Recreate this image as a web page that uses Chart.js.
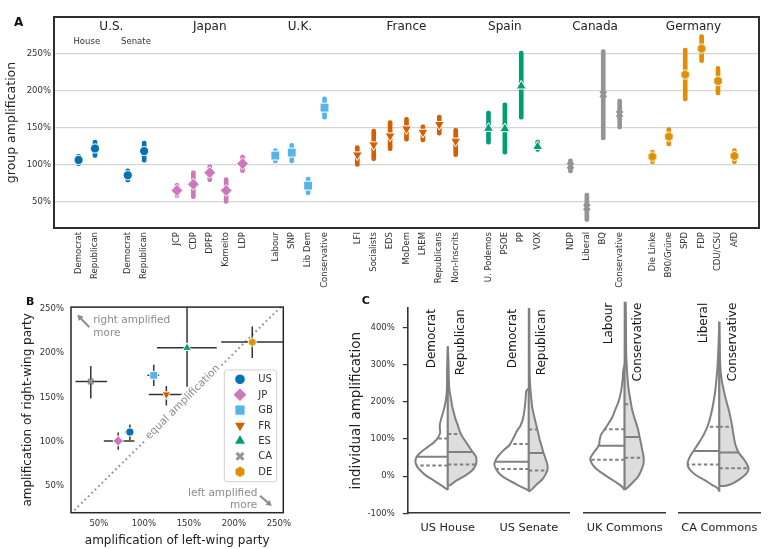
<!DOCTYPE html>
<html>
<head>
<meta charset="utf-8">
<script src="https://cdn.jsdelivr.net/npm/chart.js@4.4.1/dist/chart.umd.min.js"></script>
<style>
html,body{margin:0;padding:0;background:#fff;}
#wrap{position:relative;width:771px;height:549px;overflow:hidden;background:#fff;}
#wrap canvas{position:absolute;}
</style>
</head>
<body>
<div id="wrap">
<canvas id="chartA" width="771" height="295" style="left:0px;top:0px;width:771px;height:295px"></canvas>
<canvas id="chartB" width="300" height="254" style="left:0px;top:295px;width:300px;height:254px"></canvas>
<canvas id="chartC1" width="240" height="254" style="left:330px;top:295px;width:240px;height:254px"></canvas>
<canvas id="chartC2" width="100" height="254" style="left:575px;top:295px;width:100px;height:254px"></canvas>
<canvas id="chartC3" width="101" height="254" style="left:670px;top:295px;width:101px;height:254px"></canvas>
</div>
<script>
// ================= DATA: panel A (group amplification per party) =================
const partyNames = ['Democrat','Republican','Democrat','Republican',
  'JCP','CDP','DPFP','Komeito','LDP',
  'Labour','SNP','Lib Dem','Conservative',
  'LFI','Socialists','EDS','MoDem','LREM','Republicans','Non-Inscrits',
  'U. Podemos','PSOE','PP','VOX',
  'NDP','Liberal','BQ','Conservative',
  'Die Linke','B90/Grüne','SPD','FDP','CDU/CSU','AfD'];
const partyCountries = ['US','US','US','US',
  'JP','JP','JP','JP','JP',
  'GB','GB','GB','GB',
  'FR','FR','FR','FR','FR','FR','FR',
  'ES','ES','ES','ES',
  'CA','CA','CA','CA',
  'DE','DE','DE','DE','DE','DE'];
const partySlots = [0,1,3,4, 6,7,8,9,10, 12,13,14,15, 17,18,19,20,21,22,23, 25,26,27,28, 30,31,32,33, 35,36,37,38,39,40];
const partyAmplification = [106.5,122,86,118.5, 65.5,74,89.5,65.5,101.5, 112.5,116.5,72,177, 113.5,127,139,148.5,144,154.5,132, 149,148.5,206,124.5, 99,43,195,168.5, 111,138,221.5,256.5,213,112];
const partyLow  = [99,110,77,103.5, 56,54.5,77.5,48,89.5, 102.5,102.5,60,161.5, 98,105.5,119,132,131,140,111, 128,114.5,161.5,118, 89,24,133.5,148.5, 101.5,125.5,186,237.5,194,101.5];
const partyHigh = [114,133.5,94.5,132, 75,92,100,83,113, 122,129,83.5,191.5, 126,148,159.5,164,154,167,149, 172.5,183.5,253,133.5, 108,62,255,188.5, 120,150,257,275.5,232.5,122];
const countryTitles = ['U.S.','Japan','U.K.','France','Spain','Canada','Germany'];
const countryTitleSlots = [2,8,13.5,20,26,31.5,37.5];
const chamberTitles = ['House','Senate'];
const chamberTitleSlots = [0.5,3.5];
const groupAmpTicks = [50,100,150,200,250];

// ================= DATA: panel B (left vs right wing) =================
const countryCodes = ['US','JP','GB','FR','ES','CA','DE'];
const leftAmp   = [84.5, 71.5, 111, 125, 148, 41, 220.5];
const leftLow   = [79, 55.5, 104, 105.5, 114.5, 24, 186];
const leftHigh  = [89, 89.5, 117, 145.5, 181, 59, 257];
const rightAmp  = [111, 101, 175, 153.5, 206, 168, 212.5];
const rightLow  = [102, 91, 163, 141, 162, 149, 194.5];
const rightHigh = [119.5, 110.5, 187, 163, 253, 185.5, 230];
const equalLine = [19, 255];
const lrTicks = [50,100,150,200,250];

// ================= DATA: panel C (individual amplification violins) =================
const violinGroups = ['US House','US Senate','UK Commons','CA Commons'];
const leftParties  = ['Democrat','Democrat','Labour','Liberal'];
const rightParties = ['Republican','Republican','Conservative','Conservative'];
const houseDemAmp   = [-37,-25,-12,0,13,26,39,52,65,78,91,104,117,135,152,170,187,204,222,240,290,348];
const houseDemWidth = [0,0.08,0.17,0.26,0.33,0.38,0.40,0.385,0.33,0.25,0.17,0.12,0.095,0.10,0.085,0.06,0.04,0.025,0.014,0.01,0.008,0];
const houseRepAmp   = [-26,-24,-11,2,15,28,41,54,67,80,93,106,119,137,154,171,189,206,224,241,267,310,350];
const houseRepWidth = [0,0.03,0.115,0.22,0.30,0.34,0.355,0.345,0.30,0.26,0.22,0.18,0.15,0.123,0.095,0.074,0.053,0.041,0.025,0.016,0.012,0.008,0];
const senateDemAmp   = [-39,-30,-22,-9,4,17,30,43,56,70,83,96,109,122,135,152,178,204,230,236];
const senateDemWidth = [0,0.08,0.155,0.265,0.35,0.40,0.425,0.41,0.37,0.31,0.24,0.205,0.175,0.145,0.105,0.075,0.053,0.041,0.03,0];
const senateRepAmp   = [-42,-35,-22,-9,4,17,30,48,65,83,100,117,135,161,187,222,265,352,452];
const senateRepWidth = [0,0.04,0.10,0.165,0.205,0.23,0.23,0.205,0.178,0.156,0.132,0.115,0.095,0.066,0.041,0.025,0.012,0.008,0.006];
const ukLabAmp   = [-39,-30,-22,-9,4,17,30,43,56,70,81,91,104,117,135,152,170,187,204,222,248,274,288];
const ukLabWidth = [0,0.035,0.085,0.18,0.27,0.35,0.40,0.42,0.385,0.335,0.31,0.305,0.29,0.25,0.195,0.148,0.115,0.082,0.058,0.041,0.025,0.016,0];
const ukConAmp   = [-39,-30,-17,-4,13,30,48,65,83,100,117,135,152,170,196,222,257,309,378,452];
const ukConWidth = [0,0.05,0.11,0.165,0.205,0.23,0.23,0.214,0.198,0.181,0.165,0.14,0.115,0.091,0.07,0.049,0.033,0.02,0.016,0.012];
const caLibAmp   = [-43.5,-35,-26,-13,0,13,26,39,52,65,83,100,117,135,161,187,222,265,309,352,400];
const caLibWidth = [0,0.02,0.09,0.185,0.29,0.36,0.39,0.38,0.35,0.31,0.255,0.205,0.165,0.132,0.099,0.074,0.049,0.029,0.016,0.008,0];
const caConAmp   = [-29,-28,-22,-9,4,17,30,43,56,74,91,117,143,170,196,222,248,283,352,400];
const caConWidth = [0,0.08,0.165,0.265,0.335,0.36,0.335,0.295,0.245,0.205,0.185,0.165,0.144,0.115,0.082,0.053,0.029,0.012,0.004,0];
const leftQ1  = [28.5, 19, 40, 27.5];
const leftMed = [52, 39, 76.5, 62.5];
const leftQ3  = [101.5, 86.5, 119, 126];
const rightQ1  = [31.5, 15, 45, 17.5];
const rightMed = [65, 62.5, 99, 58.5];
const rightQ3  = [113, 125.5, 184.5, 126];
const individualTicks = [-100,0,100,200,300,400];

// ================= STYLE =================
const FONT = '"DejaVu Sans", sans-serif';
Chart.defaults.font.family = FONT;
Chart.defaults.color = '#333';
Chart.defaults.animation = false;
Chart.defaults.events = [];
Chart.defaults.plugins.legend.display = false;
Chart.defaults.plugins.tooltip.enabled = false;

const countryColors = {US:'#0173B2', JP:'#CC78BC', GB:'#56B4E9', FR:'#D55E00', ES:'#029E73', CA:'#949494', DE:'#DE8F05'};

function hexImage(color, r) {
  const s = Math.ceil(2 * r + 4);
  const c = document.createElement('canvas');
  c.width = s; c.height = s;
  const g = c.getContext('2d');
  g.beginPath();
  for (let k = 0; k < 6; k++) {
    const ang = -Math.PI / 2 + k * Math.PI / 3;
    const px = s / 2 + r * Math.cos(ang), py = s / 2 + r * Math.sin(ang);
    if (k) g.lineTo(px, py); else g.moveTo(px, py);
  }
  g.closePath();
  g.fillStyle = color; g.fill();
  g.strokeStyle = '#fff'; g.lineWidth = 1; g.stroke();
  return c;
}
const sizeScale = {A: 1, B: 0.88, L: 1.15};
function marker(code, which) {
  const k = sizeScale[which];
  const base = {
    US: {style: 'circle', r: 4.6, rot: 0},
    JP: {style: 'rectRot', r: 6, rot: 0},
    GB: {style: 'rect', r: 6.3, rot: 0},
    FR: {style: 'triangle', r: 5.8, rot: 180},
    ES: {style: 'triangle', r: 5.8, rot: 0},
    CA: {style: 'crossRot', r: 4.2, rot: 0},
    DE: {style: 'hex', r: 5, rot: 0}
  }[code];
  const r = base.r * k;
  const isX = code === 'CA';
  return {
    pointStyle: base.style === 'hex' ? hexImage(countryColors[code], r) : base.style,
    radius: r,
    rotation: base.rot,
    bg: countryColors[code],
    border: isX ? countryColors[code] : '#ffffff',
    borderWidth: isX ? 2.6 * k : 1
  };
}

// ================= PANEL A =================
const panelAPlugin = {
  id: 'panelA',
  afterDraw(chart) {
    const {ctx, chartArea: a, scales: {x}} = chart;
    ctx.save();
    ctx.strokeStyle = '#2e2e2e'; ctx.lineWidth = 2;
    ctx.strokeRect(a.left, a.top, a.right - a.left, a.bottom - a.top);
    ctx.fillStyle = '#222'; ctx.textAlign = 'center'; ctx.textBaseline = 'middle';
    ctx.font = '12px ' + FONT;
    countryTitles.forEach((t, i) => ctx.fillText(t, x.getPixelForValue(countryTitleSlots[i]), 26.5));
    ctx.font = '8.5px ' + FONT; ctx.fillStyle = '#333';
    chamberTitles.forEach((t, i) => ctx.fillText(t, x.getPixelForValue(chamberTitleSlots[i]), 41.7));
    ctx.font = 'bold 12px ' + FONT; ctx.fillStyle = '#111';
    ctx.fillText('A', 18.7, 23.3);
    ctx.restore();
  }
};

const aMarkers = partyCountries.map(c => marker(c, 'A'));
new Chart(document.getElementById('chartA'), {
  type: 'scatter',
  data: {
    datasets: [
      {
        type: 'scatter', order: 0,
        data: partySlots.map((s, i) => ({x: s, y: partyAmplification[i]})),
        pointStyle: aMarkers.map(m => m.pointStyle),
        pointRadius: aMarkers.map(m => m.radius),
        pointRotation: aMarkers.map(m => m.rotation),
        pointBackgroundColor: aMarkers.map(m => m.bg),
        pointBorderColor: aMarkers.map(m => m.border),
        pointBorderWidth: aMarkers.map(m => m.borderWidth)
      },
      {
        type: 'bar', order: 1,
        data: partySlots.map((s, i) => ({x: s, y: [partyLow[i], partyHigh[i]]})),
        backgroundColor: partyCountries.map(c => countryColors[c]),
        barThickness: 4, borderRadius: 2, borderSkipped: false
      }
    ]
  },
  options: {
    responsive: false, maintainAspectRatio: false,
    layout: {padding: {left: 0, top: 17, right: 12, bottom: 0}},
    scales: {
      x: {
        type: 'linear', offset: false, min: -1.5, max: 41.5,
        afterBuildTicks: s => { s.ticks = partySlots.map(v => ({value: v})); },
        afterFit: s => { s.height = 67; },
        ticks: {
          autoSkip: false, minRotation: 90, maxRotation: 90, padding: 4,
          font: {size: 8.5}, color: '#333',
          callback: v => { const i = partySlots.indexOf(v); return i < 0 ? '' : partyNames[i]; }
        },
        grid: {display: false, drawTicks: false, offset: false},
        border: {display: false}
      },
      y: {
        type: 'linear', min: 15, max: 299, beginAtZero: false,
        afterBuildTicks: s => { s.ticks = groupAmpTicks.map(v => ({value: v})); },
        afterFit: s => { s.width = 54; },
        ticks: {padding: 3, font: {size: 8.5}, color: '#333', callback: v => v + '%'},
        grid: {color: '#d5d5d5', lineWidth: 1.2, drawTicks: false},
        border: {display: false},
        title: {display: true, text: 'group amplification', font: {size: 12.5}, color: '#222', padding: {top: 4, bottom: 4}}
      }
    }
  },
  plugins: [panelAPlugin]
});

// ================= PANEL B =================
function drawArrow(ctx, x1, y1, x2, y2) {
  const ang = Math.atan2(y2 - y1, x2 - x1);
  const head = 5.5;
  ctx.beginPath();
  ctx.moveTo(x1, y1);
  ctx.lineTo(x2 - Math.cos(ang) * head * 0.8, y2 - Math.sin(ang) * head * 0.8);
  ctx.stroke();
  ctx.beginPath();
  ctx.moveTo(x2, y2);
  ctx.lineTo(x2 - head * Math.cos(ang) + head * 0.6 * Math.sin(ang), y2 - head * Math.sin(ang) - head * 0.6 * Math.cos(ang));
  ctx.lineTo(x2 - head * Math.cos(ang) - head * 0.6 * Math.sin(ang), y2 - head * Math.sin(ang) + head * 0.6 * Math.cos(ang));
  ctx.closePath();
  ctx.fill();
}
const panelBPlugin = {
  id: 'panelB',
  afterDraw(chart) {
    const {ctx, chartArea: a, scales: {x, y}} = chart;
    ctx.save();
    ctx.strokeStyle = '#262626'; ctx.lineWidth = 1.5;
    ctx.strokeRect(a.left, a.top, a.right - a.left, a.bottom - a.top);

    // annotations
    ctx.fillStyle = '#8c8c8c'; ctx.strokeStyle = '#8c8c8c'; ctx.lineWidth = 2;
    ctx.font = '10.5px ' + FONT; ctx.textBaseline = 'middle';
    ctx.textAlign = 'left';
    ctx.fillText('right amplified', a.left + 22.3, a.top + 13.3);
    ctx.fillText('more', a.left + 22.3, a.top + 25.7);
    ctx.textAlign = 'right';
    ctx.fillText('left amplified', a.right - 26, a.bottom - 19.4);
    ctx.fillText('more', a.right - 26, a.bottom - 7.7);
    drawArrow(ctx, a.left + 18.3, a.top + 20, a.left + 6.3, a.top + 7.7);
    drawArrow(ctx, a.right - 23.3, a.bottom - 17, a.right - 11.6, a.bottom - 6.7);

    // equal amplification label
    const ex = x.getPixelForValue(142.9), ey = y.getPixelForValue(145);
    ctx.save();
    ctx.translate(ex, ey); ctx.rotate(-Math.PI / 4);
    const tw = ctx.measureText('equal amplification').width;
    ctx.fillStyle = '#ffffff';
    ctx.fillRect(-tw / 2 - 2, -6, tw + 4, 12);
    ctx.fillStyle = '#8c8c8c'; ctx.textAlign = 'center';
    ctx.fillText('equal amplification', 0, 0.5);
    ctx.restore();

    // legend
    const bx = 224.3, by = 75, bw = 52.4, bh = 111.7, rr = 3;
    ctx.beginPath();
    ctx.moveTo(bx + rr, by); ctx.lineTo(bx + bw - rr, by); ctx.quadraticCurveTo(bx + bw, by, bx + bw, by + rr);
    ctx.lineTo(bx + bw, by + bh - rr); ctx.quadraticCurveTo(bx + bw, by + bh, bx + bw - rr, by + bh);
    ctx.lineTo(bx + rr, by + bh); ctx.quadraticCurveTo(bx, by + bh, bx, by + bh - rr);
    ctx.lineTo(bx, by + rr); ctx.quadraticCurveTo(bx, by, bx + rr, by);
    ctx.closePath();
    ctx.fillStyle = 'rgba(255,255,255,0.9)'; ctx.fill();
    ctx.strokeStyle = '#d0d0d0'; ctx.lineWidth = 1; ctx.stroke();
    countryCodes.forEach((c, i) => {
      const ly = by + 9.3 + i * 15.4;
      const m = marker(c, 'L');
      ctx.fillStyle = m.bg; ctx.strokeStyle = m.border; ctx.lineWidth = m.borderWidth;
      if (Chart.helpers && Chart.helpers.drawPoint) {
        Chart.helpers.drawPoint(ctx, {pointStyle: m.pointStyle, radius: m.radius, rotation: m.rotation, borderWidth: m.borderWidth}, bx + 15.7, ly);
      } else {
        ctx.beginPath(); ctx.arc(bx + 15.7, ly, m.radius, 0, Math.PI * 2); ctx.fill();
      }
      ctx.fillStyle = '#333'; ctx.font = '10px ' + FONT; ctx.textAlign = 'left'; ctx.textBaseline = 'middle';
      ctx.fillText(c, bx + 34, ly + 0.5);
    });

    ctx.font = 'bold 11px ' + FONT; ctx.fillStyle = '#111'; ctx.textAlign = 'center';
    ctx.fillText('B', 30.3, 6.7);
    ctx.restore();
  }
};

const bMarkers = countryCodes.map(c => marker(c, 'B'));
const bErrorSets = [];
countryCodes.forEach((c, i) => {
  bErrorSets.push({type: 'line', order: 1, showLine: true, pointRadius: 0, borderColor: '#333', borderWidth: 1.5,
    data: [{x: leftLow[i], y: rightAmp[i]}, {x: leftHigh[i], y: rightAmp[i]}]});
  bErrorSets.push({type: 'line', order: 1, showLine: true, pointRadius: 0, borderColor: '#333', borderWidth: 1.5,
    data: [{x: leftAmp[i], y: rightLow[i]}, {x: leftAmp[i], y: rightHigh[i]}]});
});
new Chart(document.getElementById('chartB'), {
  type: 'scatter',
  data: {
    datasets: [
      {
        type: 'scatter', order: 0,
        data: countryCodes.map((c, i) => ({x: leftAmp[i], y: rightAmp[i]})),
        pointStyle: bMarkers.map(m => m.pointStyle),
        pointRadius: bMarkers.map(m => m.radius),
        pointRotation: bMarkers.map(m => m.rotation),
        pointBackgroundColor: bMarkers.map(m => m.bg),
        pointBorderColor: bMarkers.map(m => m.border),
        pointBorderWidth: bMarkers.map(m => m.borderWidth)
      },
      ...bErrorSets,
      {
        type: 'line', order: 2, showLine: true, pointRadius: 0,
        data: [{x: equalLine[0], y: equalLine[0]}, {x: equalLine[1], y: equalLine[1]}],
        borderColor: '#8c8c8c', borderWidth: 2, borderDash: [1.6, 3.2]
      }
    ]
  },
  options: {
    responsive: false, maintainAspectRatio: false,
    layout: {padding: {left: 17, top: 10, right: 16.7, bottom: 0}},
    scales: {
      x: {
        type: 'linear', min: 19, max: 255,
        afterBuildTicks: s => { s.ticks = lrTicks.map(v => ({value: v})); },
        afterFit: s => { s.height = 36.3; },
        ticks: {padding: 5.5, font: {size: 8.5}, color: '#333', callback: v => v + '%'},
        grid: {display: false, drawTicks: false},
        border: {display: false},
        title: {display: true, text: 'amplification of left-wing party', font: {size: 12}, color: '#222', padding: {top: 0, bottom: 1}}
      },
      y: {
        type: 'linear', min: 20, max: 252,
        afterBuildTicks: s => { s.ticks = lrTicks.map(v => ({value: v})); },
        afterFit: s => { s.width = 54; },
        ticks: {padding: 7, font: {size: 8.5}, color: '#333', callback: v => v + '%'},
        grid: {display: false, drawTicks: false},
        border: {display: false},
        title: {display: true, text: 'amplification of right-wing party', font: {size: 12}, color: '#222', padding: {top: 4, bottom: 4}}
      }
    }
  },
  plugins: [panelBPlugin]
});

// ================= PANEL C =================
const leftHalves = [
  {amp: houseDemAmp, width: houseDemWidth},
  {amp: senateDemAmp, width: senateDemWidth},
  {amp: ukLabAmp, width: ukLabWidth},
  {amp: caLibAmp, width: caLibWidth}
];
const rightHalves = [
  {amp: houseRepAmp, width: houseRepWidth},
  {amp: senateRepAmp, width: senateRepWidth},
  {amp: ukConAmp, width: ukConWidth},
  {amp: caConAmp, width: caConWidth}
];
const VIOLIN_LINE = '#808080';
const VIOLIN_FILL = '#dddddd';

function widthAt(h, q) {
  for (let i = 1; i < h.amp.length; i++) {
    if (q <= h.amp[i]) {
      const t = (q - h.amp[i - 1]) / (h.amp[i] - h.amp[i - 1]);
      return h.width[i - 1] + t * (h.width[i] - h.width[i - 1]);
    }
  }
  return 0;
}
function halfDataset(center, h, side, fill) {
  const pts = h.amp.map((v, i) => ({x: center + side * h.width[i], y: v}));
  pts.push({x: center, y: h.amp[h.amp.length - 1]});
  pts.push({x: center, y: h.amp[0]});
  return {type: 'line', order: 2, showLine: true, pointRadius: 0, data: pts,
    borderColor: VIOLIN_LINE, borderWidth: 2, tension: 0.25,
    fill: fill ? 'shape' : false, backgroundColor: fill || 'rgba(0,0,0,0)'};
}
function quartileDataset(center, h, side, q, dashed) {
  return {type: 'line', order: 1, showLine: true, pointRadius: 0,
    data: [{x: center, y: q}, {x: center + side * widthAt(h, q), y: q}],
    borderColor: VIOLIN_LINE, borderWidth: 2, borderDash: dashed ? [3.5, 2.5] : []};
}
function violinDatasets(groupIndexes) {
  const ds = [];
  groupIndexes.forEach((g, k) => {
    const c = k;
    const L = leftHalves[g], R = rightHalves[g];
    ds.push(halfDataset(c, R, 1, VIOLIN_FILL));
    ds.push(halfDataset(c, L, -1, '#ffffff'));
    ds.push(quartileDataset(c, L, -1, leftQ1[g], true));
    ds.push(quartileDataset(c, L, -1, leftMed[g], false));
    ds.push(quartileDataset(c, L, -1, leftQ3[g], true));
    ds.push(quartileDataset(c, R, 1, rightQ1[g], true));
    ds.push(quartileDataset(c, R, 1, rightMed[g], false));
    ds.push(quartileDataset(c, R, 1, rightQ3[g], true));
  });
  return ds;
}

const violinLabelPlugin = {
  id: 'violinLabels',
  afterDatasetsDraw(chart, args, o) {
    const {ctx, chartArea: a, scales: {x}} = chart;
    ctx.save();
    ctx.font = '12px ' + FONT; ctx.fillStyle = '#1a1a1a';
    ctx.textAlign = 'right'; ctx.textBaseline = 'middle';
    o.groups.forEach((g, k) => {
      const cx = x.getPixelForValue(k);
      [[leftParties[g], cx - 15.8], [rightParties[g], cx + 13.5]].forEach(([t, px]) => {
        ctx.save(); ctx.translate(px, a.top + 1); ctx.rotate(-Math.PI / 2); ctx.fillText(t, 0, 0); ctx.restore();
      });
    });
    if (o.letter) {
      ctx.font = 'bold 11px ' + FONT; ctx.fillStyle = '#111'; ctx.textAlign = 'center';
      ctx.fillText(o.letter, o.letterX, o.letterY);
    }
    ctx.restore();
  }
};

function makeViolinChart(id, groups, pad, showY) {
  const xTicks = groups.map((g, k) => k);
  return new Chart(document.getElementById(id), {
    type: 'line',
    data: {datasets: violinDatasets(groups)},
    options: {
      responsive: false, maintainAspectRatio: false,
      layout: {padding: pad},
      scales: {
        x: {
          type: 'linear', min: -0.5, max: groups.length - 0.5, offset: false,
          afterBuildTicks: s => { s.ticks = xTicks.map(v => ({value: v})); },
          afterFit: s => { s.height = 35.7; },
          ticks: {padding: 8, font: {size: 11.3}, color: '#222', maxRotation: 0, autoSkip: false,
            callback: v => violinGroups[groups[v]]},
          grid: {display: true, drawOnChartArea: false, drawTicks: false},
          border: {display: true, color: '#333', width: 1.6}
        },
        y: {
          type: 'linear', min: -100, max: 452, display: showY,
          afterBuildTicks: s => { s.ticks = individualTicks.map(v => ({value: v})); },
          afterFit: s => { s.width = showY ? 63.4 : 0; },
          ticks: {padding: 8, font: {size: 8.5}, color: '#333', callback: v => v + '%'},
          grid: {display: true, drawOnChartArea: false, drawTicks: true, tickLength: 4.5, color: '#333', lineWidth: 1.2},
          border: {display: true, color: '#333', width: 1.6},
          title: {display: true, text: 'individual amplification', font: {size: 13.5}, color: '#222', padding: {top: 4, bottom: 4}}
        }
      },
      plugins: {violinLabels: {groups: groups, letter: showY ? 'C' : '', letterX: 35.8, letterY: 6.3}}
    },
    plugins: [violinLabelPlugin]
  });
}
makeViolinChart('chartC1', [0, 1], {left: 13.9, top: 6.7, right: 0.7, bottom: 0}, true);
makeViolinChart('chartC2', [2], {left: 7.3, top: 6.7, right: 9.3, bottom: 0}, false);
makeViolinChart('chartC3', [3], {left: 6.7, top: 6.7, right: 11, bottom: 0}, false);
</script>
</body>
</html>
